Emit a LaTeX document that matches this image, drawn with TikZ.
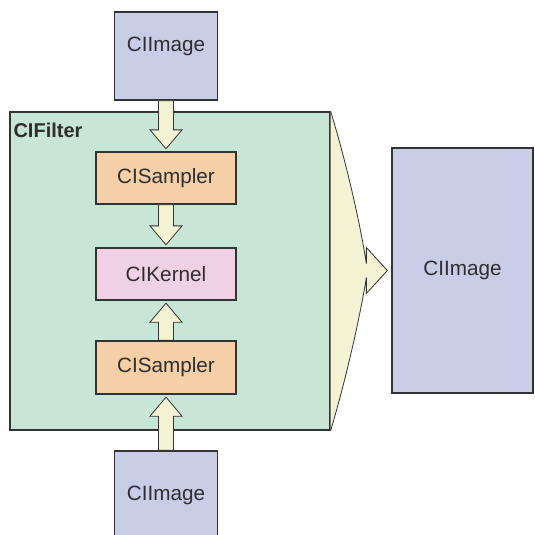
\documentclass[tikz,border=0pt]{standalone}
\usepackage{fontspec}
\setmainfont{Liberation Sans}
\usepackage{tikz}
\usetikzlibrary{calc, positioning}
\definecolor{imgblue}{HTML}{C8CCE6}
\definecolor{filtergreen}{HTML}{C8E6D6}
\definecolor{sampleorange}{HTML}{F5CFA8}
\definecolor{kernelpink}{HTML}{F0D0E4}
\definecolor{flowyellow}{HTML}{F3F3D4}
\definecolor{linegray}{HTML}{333333}
\definecolor{textgray}{HTML}{2E2E2E}
\tikzstyle{box} = [rectangle, draw=linegray, line width=1.3pt, text=textgray, inner sep=0pt, font=\fontsize{20.7}{24}\selectfont]
\tikzstyle{imagebox} = [box, fill=imgblue, minimum width=103pt, minimum height=88pt]
\tikzstyle{stage} = [box, minimum width=140pt, minimum height=52pt]
\tikzstyle{flowarrow} = [draw=linegray, line width=0.8pt, fill=flowyellow, line join=miter]

% fat arrow from #1 up to a tip just short of #2
\newcommand{\blockarrow}[2]{%
  \path (#1) coordinate (ba-s) ($(#2)!2.5pt!(#1)$) coordinate (ba-t)
        ($(ba-t)!19pt!(ba-s)$) coordinate (ba-h);
  \draw[flowarrow] ($(ba-s)!7.5pt!90:(ba-t)$) -- ($(ba-h)!7.5pt!90:(ba-t)$)
    -- ($(ba-h)!16pt!90:(ba-t)$) -- (ba-t) -- ($(ba-h)!16pt!-90:(ba-t)$)
    -- ($(ba-h)!7.5pt!-90:(ba-t)$) -- ($(ba-s)!7.5pt!-90:(ba-t)$) -- cycle;}

\begin{document}
\begin{tikzpicture}[x=1pt, y=-1pt]
\useasboundingbox (0,0) rectangle (535,535);

\node[box, fill=filtergreen, minimum width=320pt, minimum height=318pt] (filter) at (170,271) {};
\node[anchor=north west, text=textgray, inner sep=0pt, font=\fontsize{20}{24}\selectfont\bfseries] (filter label) at ($(filter.north west)+(4,11)$) {CIFilter};

\node[imagebox, text depth=24pt] (source top) at (166,56) {CIImage};
\node[stage, fill=sampleorange] (sampler top) at (166,178) {CISampler};
\node[stage, fill=kernelpink] (kernel) at (166,274) {CIKernel};
\node[stage, fill=sampleorange, minimum height=53pt] (sampler bottom) at (166,367.5) {CISampler};
\node[imagebox, minimum height=89pt] (source bottom) at (166,495.5) {CIImage};
\node[box, fill=imgblue, minimum width=141pt, minimum height=245pt] (result) at (462.5,270.5) {CIImage};

\blockarrow{source top.south}{sampler top.north}
\blockarrow{sampler top.south}{kernel.north}
\blockarrow{sampler bottom.north}{kernel.south}
\blockarrow{source bottom.north}{sampler bottom.south}

% output fan
\coordinate (fan tip) at ($(result.west)+(-4,0)$);
\draw[flowarrow] (filter.north east) .. controls (350,175) and (362,235) .. ($(fan tip)+(-21,-7)$)
  -- ($(fan tip)+(-21,-23)$) -- (fan tip) -- ($(fan tip)+(-21,23)$) -- ($(fan tip)+(-21,7)$)
  .. controls (362,305) and (350,365) .. (filter.south east);

\end{tikzpicture}
\end{document}
